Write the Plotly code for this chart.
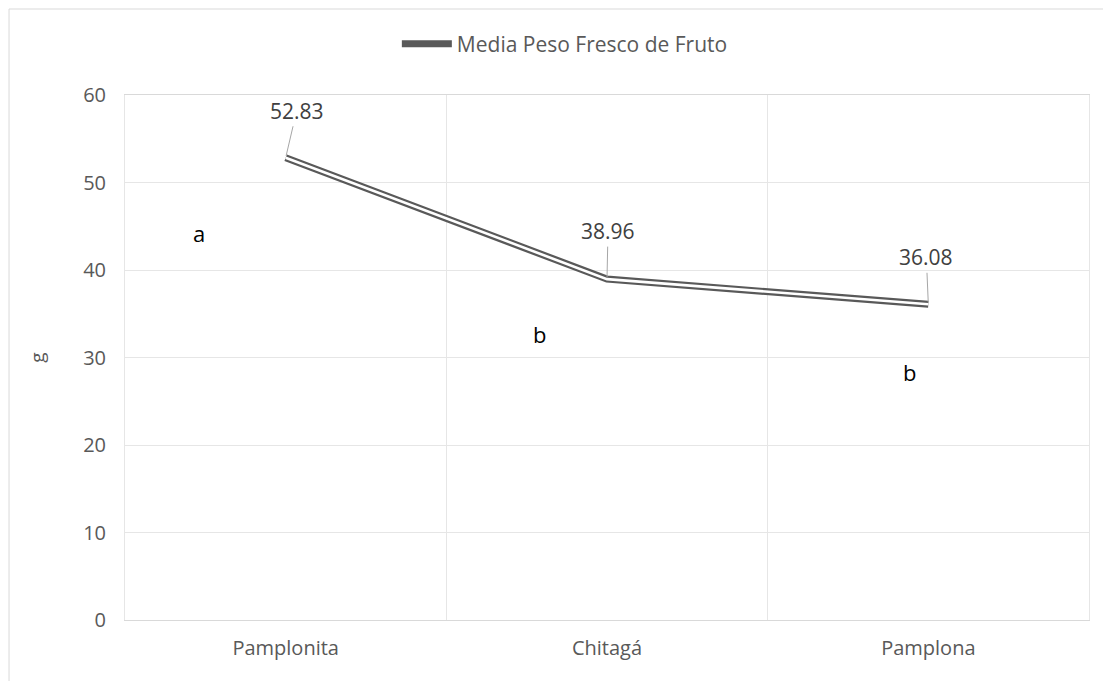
import plotly.graph_objects as go

categories = ["Pamplonita", "Chitagá", "Pamplona"]
values = [52.83, 38.96, 36.08]
value_labels = ["52.83", "38.96", "36.08"]
letters = ["a", "b", "b"]
letter_x = [-0.27, 0.79, 1.94]
letter_y = [44.2, 32.7, 28.3]
label_offsets = [(11, -47), (1, -48), (-2, -47)]

FONT = "Open Sans"
GRAY = "#595959"

fig = go.Figure()
fig.add_trace(go.Scatter(x=categories, y=values, mode="lines", name="Media Peso Fresco de Fruto",
                         line=dict(color=GRAY, width=7), showlegend=True))
fig.add_trace(go.Scatter(x=categories, y=values, mode="lines", line=dict(color="white", width=2.6),
                         showlegend=False, hoverinfo="skip"))

for i, (c, v) in enumerate(zip(categories, values)):
    ax, ay = label_offsets[i]
    fig.add_annotation(x=i, y=v, xref="x", yref="y", text=value_labels[i], showarrow=True,
                       arrowhead=0, arrowwidth=1, arrowcolor="#a6a6a6", ax=ax, ay=ay,
                       standoff=2, font=dict(family=FONT, size=21, color="#404040"))

for lx, ly, t in zip(letter_x, letter_y, letters):
    fig.add_annotation(x=lx, y=ly, xref="x", yref="y", text=t, showarrow=False,
                       font=dict(family=FONT, size=22, color="black"))

fig.add_shape(type="rect", xref="paper", yref="paper", x0=-0.1203, y0=-0.3, x1=1.2, y1=1.1638,
              line=dict(color="#d9d9d9", width=1), layer="below")

fig.update_layout(
    width=1111, height=681,
    margin=dict(l=117, r=30, t=87, b=69),
    paper_bgcolor="white", plot_bgcolor="white",
    font=dict(family=FONT, size=20, color=GRAY),
    legend=dict(orientation="h", x=0.282, xanchor="left", y=1.097, yanchor="middle",
                font=dict(family=FONT, size=21, color=GRAY), itemwidth=50),
    xaxis=dict(type="category", range=[-0.5, 2.5], tickson="boundaries", showgrid=True,
               gridcolor="#e6e6e6", ticks="", showline=True, linecolor="#d9d9d9", mirror=True,
               ticklabelstandoff=10, tickfont=dict(size=20, color=GRAY)),
    yaxis=dict(range=[0, 60], dtick=10, showgrid=True, gridcolor="#e6e6e6", zeroline=False,
               showline=True, linecolor="#e6e6e6", mirror=True, ticks="",
               ticklabelstandoff=14, tickfont=dict(size=20, color=GRAY),
               title=dict(text="g", font=dict(size=19, color=GRAY), standoff=33)),
)

fig.write_html("out.html")
